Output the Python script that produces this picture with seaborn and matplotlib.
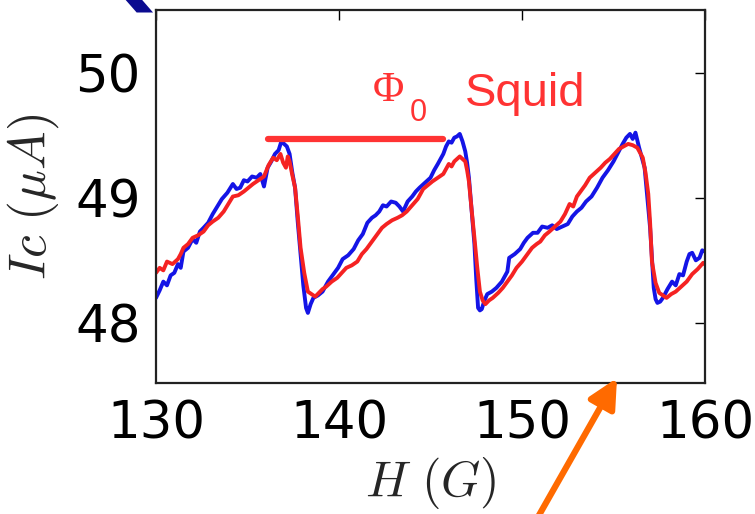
import numpy as np
import pandas as pd
import matplotlib
matplotlib.use("Agg")
import matplotlib.pyplot as plt
import seaborn as sns

# ---- data ----
h_blue = [130.0, 130.2, 130.4, 130.6, 130.8, 131.0, 131.2, 131.35, 131.5, 131.75,
          132.0, 132.2, 132.4, 132.6, 132.85, 133.1, 133.35, 133.6, 133.9, 134.2,
          134.4, 134.6, 134.8, 135.0, 135.25, 135.5, 135.7, 135.9, 136.1, 136.3,
          136.5, 136.7, 136.85, 137.0, 137.15, 137.3, 137.45, 137.6, 137.75, 137.9,
          138.05, 138.2, 138.3, 138.45, 138.6, 138.85, 139.1, 139.4, 139.7, 139.95,
          140.2, 140.5, 140.8, 141.05, 141.3, 141.55, 141.8, 142.0, 142.2, 142.4,
          142.6, 142.85, 143.1, 143.3, 143.5, 143.75, 144.0, 144.2, 144.4, 144.7,
          145.0, 145.2, 145.4, 145.55, 145.7, 145.85, 146.0, 146.15, 146.3, 146.45,
          146.6, 146.75, 146.9, 147.0, 147.1, 147.25, 147.4, 147.5, 147.6, 147.7,
          147.8, 147.95, 148.1, 148.35, 148.6, 148.9, 149.2, 149.3, 149.6, 149.9,
          150.1, 150.3, 150.6, 150.85, 151.1, 151.4, 151.65, 151.9, 152.2, 152.5,
          152.75, 153.0, 153.25, 153.5, 153.8, 154.1, 154.4, 154.7, 155.0, 155.25,
          155.5, 155.7, 155.9, 156.05, 156.2, 156.4, 156.55, 156.7, 156.85, 157.0,
          157.1, 157.2, 157.3, 157.4, 157.55, 157.7, 157.95, 158.2, 158.4, 158.6,
          158.8, 159.0, 159.15, 159.3, 159.5, 159.7, 159.85, 160.0]
ic_blue = [48.20, 48.26, 48.33, 48.30, 48.38, 48.40, 48.47, 48.44, 48.57, 48.60,
           48.67, 48.64, 48.73, 48.76, 48.80, 48.87, 48.93, 48.99, 49.04, 49.11,
           49.07, 49.08, 49.14, 49.13, 49.17, 49.16, 49.19, 49.09, 49.24, 49.29,
           49.35, 49.38, 49.45, 49.43, 49.41, 49.35, 49.20, 49.08, 48.80, 48.55,
           48.30, 48.12, 48.08, 48.15, 48.20, 48.22, 48.25, 48.33, 48.39, 48.44,
           48.51, 48.54, 48.59, 48.66, 48.71, 48.80, 48.84, 48.86, 48.89, 48.94,
           48.93, 48.97, 48.96, 48.93, 48.89, 48.97, 49.01, 49.05, 49.08, 49.12,
           49.16, 49.22, 49.27, 49.31, 49.35, 49.41, 49.45, 49.44, 49.48, 49.49,
           49.51, 49.45, 49.37, 49.28, 49.16, 48.90, 48.63, 48.35, 48.12, 48.10,
           48.11, 48.18, 48.23, 48.25, 48.28, 48.33, 48.41, 48.52, 48.55, 48.59,
           48.64, 48.68, 48.72, 48.72, 48.77, 48.76, 48.78, 48.75, 48.77, 48.79,
           48.85, 48.89, 48.92, 48.97, 49.01, 49.08, 49.16, 49.22, 49.29, 49.36,
           49.43, 49.48, 49.51, 49.47, 49.52, 49.40, 49.32, 49.24, 49.00, 48.76,
           48.52, 48.28, 48.19, 48.16, 48.17, 48.20, 48.27, 48.33, 48.30, 48.39,
           48.38, 48.49, 48.55, 48.56, 48.50, 48.52, 48.58, 48.57]

h_red = [130.0, 130.2, 130.4, 130.6, 130.9, 131.2, 131.35, 131.5, 131.75, 132.0,
         132.3, 132.6, 132.85, 133.1, 133.4, 133.7, 133.95, 134.2, 134.5, 134.8,
         135.05, 135.3, 135.6, 135.9, 136.15, 136.4, 136.6, 136.8, 136.95, 137.1,
         137.2, 137.3, 137.45, 137.6, 137.75, 137.9, 138.1, 138.3, 138.5, 138.7,
         138.9, 139.1, 139.3, 139.6, 139.9, 140.15, 140.4, 140.7, 141.0, 141.25,
         141.5, 141.8, 142.1, 142.35, 142.6, 142.9, 143.2, 143.45, 143.7, 144.0,
         144.3, 144.6, 144.85, 145.1, 145.4, 145.7, 145.85, 146.0, 146.15, 146.3,
         146.45, 146.6, 146.75, 146.9, 147.0, 147.1, 147.25, 147.4, 147.55, 147.7,
         147.85, 148.0, 148.2, 148.4, 148.55, 148.7, 148.95, 149.2, 149.45, 149.7,
         150.0, 150.3, 150.55, 150.8, 151.0, 151.25, 151.5, 151.8, 152.1, 152.35,
         152.6, 152.8, 153.0, 153.2, 153.45, 153.7, 154.0, 154.3, 154.55, 154.8,
         155.05, 155.3, 155.55, 155.8, 156.05, 156.3, 156.45, 156.6, 156.75, 156.9,
         157.0, 157.1, 157.3, 157.5, 157.7, 157.9, 158.15, 158.4, 158.7, 159.0,
         159.3, 159.6, 159.9, 160.0]
ic_red = [48.40, 48.44, 48.42, 48.49, 48.47, 48.51, 48.55, 48.60, 48.63, 48.68,
          48.70, 48.73, 48.78, 48.81, 48.84, 48.89, 48.95, 49.01, 49.02, 49.05,
          49.08, 49.11, 49.14, 49.17, 49.26, 49.32, 49.30, 49.35, 49.28, 49.24,
          49.33, 49.29, 49.18, 49.08, 48.85, 48.60, 48.40, 48.25, 48.23, 48.21,
          48.24, 48.27, 48.29, 48.33, 48.36, 48.40, 48.44, 48.46, 48.49, 48.55,
          48.59, 48.65, 48.71, 48.76, 48.79, 48.82, 48.84, 48.86, 48.89, 48.94,
          48.99, 49.07, 49.10, 49.13, 49.16, 49.19, 49.23, 49.27, 49.25, 49.29,
          49.31, 49.33, 49.31, 49.29, 49.22, 49.13, 48.90, 48.68, 48.45, 48.25,
          48.18, 48.15, 48.18, 48.20, 48.22, 48.24, 48.28, 48.33, 48.38, 48.44,
          48.49, 48.55, 48.60, 48.63, 48.65, 48.70, 48.73, 48.77, 48.81, 48.87,
          48.95, 48.93, 49.01, 49.05, 49.10, 49.16, 49.20, 49.24, 49.28, 49.31,
          49.35, 49.39, 49.41, 49.43, 49.42, 49.40, 49.36, 49.32, 49.20, 49.03,
          48.80, 48.49, 48.32, 48.24, 48.22, 48.20, 48.23, 48.25, 48.29, 48.33,
          48.39, 48.43, 48.48, 48.47]

# Phi_0 bar (one flux period) at the top of the first arch
phi0_h = [136.1, 145.7]
phi0_ic = [49.47, 49.47]

xticks = [130, 140, 150, 160]
yticks = [48, 49, 50]

# ---- style ----
sns.set_theme(style="white")
plt.rcParams["font.family"] = ["DejaVu Sans"]
plt.rcParams["mathtext.fontset"] = "cm"

fig = plt.figure(figsize=(7.55, 5.14), dpi=100)
ax = fig.add_axes([156 / 755, 1 - 383 / 514, (705 - 156) / 755, (383 - 10) / 514])

df = pd.concat([
    pd.DataFrame({"H": h_blue, "Ic": ic_blue, "run": "blue"}),
    pd.DataFrame({"H": h_red, "Ic": ic_red, "run": "red"}),
], ignore_index=True)

sns.lineplot(data=df, x="H", y="Ic", hue="run", estimator=None, sort=False,
             palette={"blue": "#1414e6", "red": "#f52222"}, linewidth=2.8,
             legend=False, ax=ax)
sns.lineplot(x=phi0_h, y=phi0_ic, color="#ff3333", linewidth=4.5,
             estimator=None, ax=ax)

ax.set_xlim(130, 160)
ax.set_ylim(47.52, 50.5)
ax.set_xticks(xticks)
ax.set_yticks(yticks)
ax.set_xticklabels([str(t) for t in xticks])
ax.set_yticklabels([str(t) for t in yticks])
ax.tick_params(direction="in", length=7, width=1, top=True, right=True,
               labelsize=37, colors="black", pad=10)
ax.tick_params(axis="x", pad=12)
ax.tick_params(axis="y", pad=11)
for s in ax.spines.values():
    s.set_visible(True)
    s.set_color("#222222")
    s.set_linewidth(1.6)

ax.set_xlabel(r"$H\ (G)$", fontsize=36, labelpad=4)
ax.set_ylabel(r"$Ic\ (\mu A)$", fontsize=37, labelpad=10)

# annotation text
fig.text(373 / 755, 1 - 101 / 514, "\u03a6", color="#ff3333", fontsize=31,
         family=["Liberation Serif"], va="baseline")
fig.text(410 / 755, 1 - 121 / 514, "0", color="#ff3333", fontsize=22,
         family=["Liberation Sans"], va="baseline")
fig.text(465 / 755, 1 - 106 / 514, "Squid", color="#ff3333", fontsize=34,
         family=["Liberation Sans"], va="baseline")

# cropped title fragment at the top
fig.text(162 / 755, 1 + 2 / 514, "Q", color="#0b0b90", fontsize=66,
         family=["DejaVu Sans"], weight="bold", ha="right", va="baseline")

# orange arrow from below pointing at the axis
ax.annotate("", xy=(617 / 755, 1 - 378 / 514), xycoords="figure fraction",
            xytext=(528 / 755, -0.04), textcoords="figure fraction",
            arrowprops=dict(arrowstyle="-|>,head_length=0.8,head_width=0.4",
                            color="#ff6a00", lw=4.5, mutation_scale=22,
                            shrinkA=0, shrinkB=0),
            annotation_clip=False)

fig.savefig("out.png", dpi=100, facecolor="white")
